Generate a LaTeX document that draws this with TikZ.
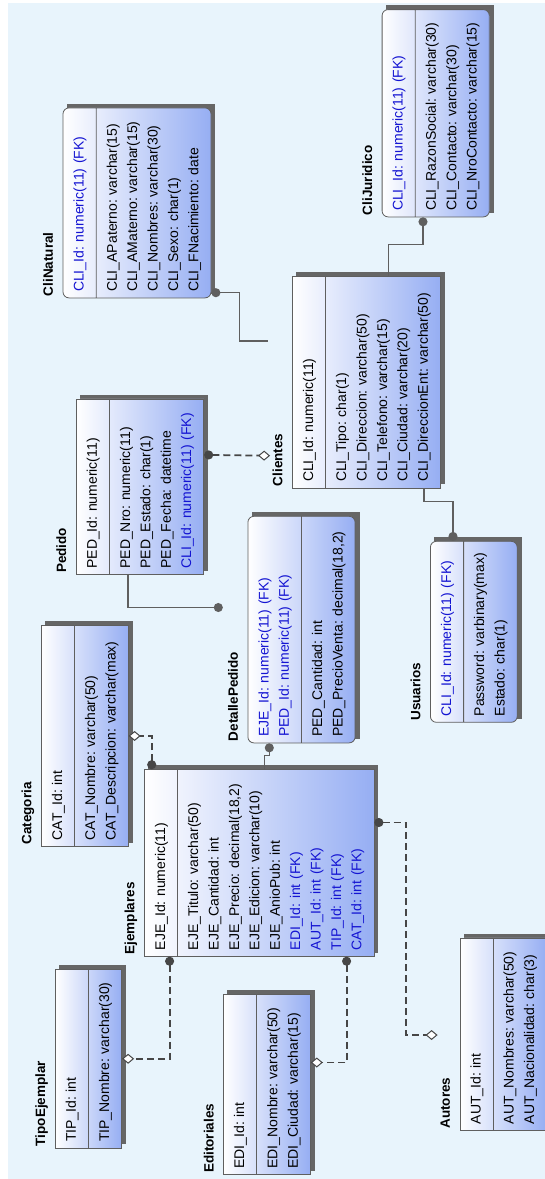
\documentclass[tikz,border=0pt]{standalone}
\usepackage{fontspec}
\setmainfont{Liberation Sans}
\usetikzlibrary{shapes.multipart,arrows.meta,calc,backgrounds}
\definecolor{bgblue}{RGB}{232,244,252}
\definecolor{tblue}{RGB}{150,174,243}
\definecolor{fkblue}{RGB}{20,20,210}
\definecolor{lgray}{RGB}{95,95,95}
\definecolor{dgray}{RGB}{70,70,70}
\tikzstyle{entity} = [rectangle split, rectangle split parts=2, draw=lgray, line width=0.8pt, rotate=90, anchor=north west, align=left, inner xsep=6pt, inner ysep=6pt, font=\fontsize{14}{20.4}\selectfont\frenchspacing, left color=white, right color=tblue]
\tikzstyle{indep} = [entity]
\tikzstyle{dep} = [entity, rounded corners=6pt]
\tikzstyle{etitle} = [rotate=90, anchor=south west, inner sep=2pt, text height=10pt, text depth=3pt, font=\fontsize{13.5}{16}\selectfont\bfseries]
\tikzstyle{eshadow} = [fill=black!60]
\tikzstyle{idrel} = [draw=lgray, line width=1.2pt]
\tikzstyle{nidrel} = [draw=dgray, line width=1.8pt, dash pattern=on 7pt off 4pt]
\tikzset{rdot/.tip={Circle[length=9pt]}, rdia/.tip={Diamond[length=12pt,width=10pt,fill=white,line width=1pt]}}
\newcommand{\rw}[1]{\rule[-6.2pt]{0pt}{20.4pt}#1}
\newcommand{\fk}[1]{\rule[-6.2pt]{0pt}{20.4pt}\textcolor{fkblue}{#1}}

\begin{document}
\begin{tikzpicture}[x=1pt, y=-1pt]
\useasboundingbox (0,0) rectangle (545,1179);

% tables =============================
\node[dep, text width=195.3pt] (cliJur) at (381.7,217.3) {\fk{CLI\_Id: numeric(11) (FK)}
  \nodepart{two} \rw{CLI\_RazonSocial: varchar(30)}\\ \rw{CLI\_Contacto: varchar(30)}\\ \rw{CLI\_NroContacto: varchar(15)}};
\node[etitle] (cliJurT) at (377.2,217.3) {CliJuridico};

\node[dep, text width=178pt] (cliNat) at (62.6,298.3) {\fk{CLI\_Id: numeric(11) (FK)}
  \nodepart{two} \rw{CLI\_APaterno: varchar(15)}\\ \rw{CLI\_AMaterno: varchar(15)}\\ \rw{CLI\_Nombres: varchar(30)}\\ \rw{CLI\_Sexo: char(1)}\\ \rw{CLI\_FNacimiento: date}};
\node[etitle] (cliNatT) at (58.1,298.3) {CliNatural};

\node[indep, text width=199.6pt] (clientes) at (292,488.3) {\rw{CLI\_Id: numeric(11)}
  \nodepart{two} \rw{CLI\_Tipo: char(1)}\\ \rw{CLI\_Direccion: varchar(50)}\\ \rw{CLI\_Telefono: varchar(15)}\\ \rw{CLI\_Ciudad: varchar(20)}\\ \rw{CLI\_DireccionEnt: varchar(50)}};
\node[etitle] (clientesT) at (287.5,488.3) {Clientes};

\node[indep, text width=163.7pt] (pedido) at (75.8,575) {\rw{PED\_Id: numeric(11)}
  \nodepart{two} \rw{PED\_Nro: numeric(11)}\\ \rw{PED\_Estado: char(1)}\\ \rw{PED\_Fecha: datetime}\\ \fk{CLI\_Id: numeric(11) (FK)}};
\node[etitle] (pedidoT) at (71.3,575) {Pedido};

\node[dep, text width=214.6pt] (detalle) at (247.5,743.3) {\fk{EJE\_Id: numeric(11) (FK)}\\ \fk{PED\_Id: numeric(11) (FK)}
  \nodepart{two} \rw{PED\_Cantidad: int}\\ \rw{PED\_PrecioVenta: decimal(18,2)}};
\node[etitle] (detalleT) at (243,743.3) {DetallePedido};

\node[dep, text width=169pt] (usuarios) at (430,722.7) {\fk{CLI\_Id: numeric(11) (FK)}
  \nodepart{two} \rw{Password: varbinary(max)}\\ \rw{Estado: char(1)}};
\node[etitle] (usuariosT) at (425.5,722.7) {Usuarios};

\node[indep, text width=208.7pt] (categoria) at (41,846.7) {\rw{CAT\_Id: int}
  \nodepart{two} \rw{CAT\_Nombre: varchar(50)}\\ \rw{CAT\_Descripcion: varchar(max)}};
\node[etitle] (categoriaT) at (36.5,846.7) {Categoria};

\node[indep, text width=174.7pt] (ejemplares) at (144,956.7) {\rw{EJE\_Id: numeric(11)}
  \nodepart{two} \rw{EJE\_Titulo: varchar(50)}\\ \rw{EJE\_Cantidad: int}\\ \rw{EJE\_Precio: decimal(18,2)}\\ \rw{EJE\_Edicion: varchar(10)}\\ \rw{EJE\_AnioPub: int}\\
  \fk{EDI\_Id: int (FK)}\\ \fk{AUT\_Id: int (FK)}\\ \fk{TIP\_Id: int (FK)}\\ \fk{CAT\_Id: int (FK)}};
\node[etitle] (ejemplaresT) at (139.5,956.7) {Ejemplares};

\node[indep, text width=166.3pt] (tipo) at (54.9,1148.3) {\rw{TIP\_Id: int}
  \nodepart{two} \rw{TIP\_Nombre: varchar(30)}};
\node[etitle] (tipoT) at (50.4,1148.3) {TipoEjemplar};

\node[indep, text width=168pt] (editoriales) at (223.2,1175) {\rw{EDI\_Id: int}
  \nodepart{two} \rw{EDI\_Nombre: varchar(50)}\\ \rw{EDI\_Ciudad: varchar(15)}};
\node[etitle] (editorialesT) at (218.7,1175) {Editoriales};

\node[indep, text width=180.4pt] (autores) at (459.5,1130.7) {\rw{AUT\_Id: int}
  \nodepart{two} \rw{AUT\_Nombres: varchar(50)}\\ \rw{AUT\_Nacionalidad: char(3)}};
\node[etitle] (autoresT) at (455,1130.7) {Autores};

% background and shadows
\begin{pgfonlayer}{background}
\fill[bgblue] (8,3) rectangle (545,1179);
\foreach \t in {cliJur,cliNat,clientes,pedido,detalle,usuarios,categoria,ejemplares,tipo,editoriales,autores}
  \fill[eshadow] ($(\t.north east)+(4,-4)$) rectangle ($(\t.south west)+(4,-4)$);
\end{pgfonlayer}

% identifying relations
\coordinate (natEnd) at ($(clientes.north east)+(-23.7,65)$);
\coordinate (detDot) at ($(detalle.north east)+(-24.7,91.6)$);
\draw[idrel, -rdot] ($(clientes.north east)+(96.3,0)$) -- ++(0,-31.7) -| ($(cliJur.north west)+(41.3,0)$);
\draw[idrel, rdot-] ($(cliNat.south west)+(0,-5.6)$) -- ++(27.7,0) |- (natEnd);
\draw[idrel, -rdot] ($(clientes.north west)+(132,0)$) -- ++(0,13.4) -| ($(usuarios.north east)+(23,0)$);
\draw[idrel, -rdot] ($(pedido.north west)+(52.1,0)$) |- (detDot);
\draw[idrel, -rdot] ($(ejemplares.north east)+(120.3,0)$) -- ++(0,-14) -| ($(detalle.north west)+(21.8,0)$);

% non-identifying relations
\draw[nidrel, rdot-rdia] ($(pedido.south east)+(0,56.4)$) -- ($(clientesT.north west)+(0,-32.6)$);
\draw[nidrel, rdot-rdia] ($(ejemplares.north east)+(7.7,0)$) |- (categoria.south);
\draw[nidrel, rdot-rdia] ($(ejemplares.south east)+(0,53.3)$) -- ++(31.2,0) |- ($(autoresT.north west)+(0,-95.7)$);
\draw[nidrel, rdot-rdia] ($(ejemplares.north west)+(25.6,0)$) |- (tipo.south);
\draw[nidrel, rdot-rdia] ($(ejemplares.north west)+(202.6,0)$) |- ($(editoriales.south east)+(0,68.3)$);

\end{tikzpicture}
\end{document}
